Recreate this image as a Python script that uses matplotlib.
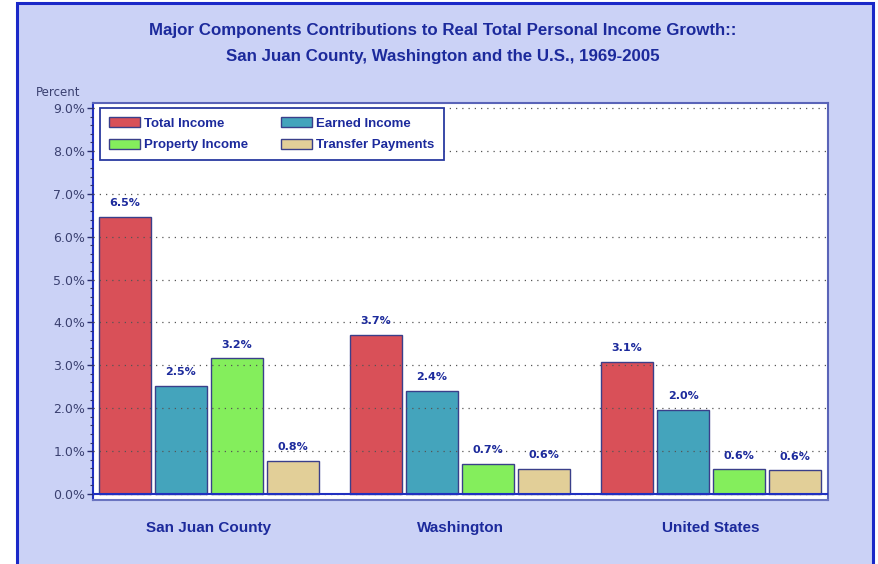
import matplotlib
matplotlib.use("Agg")
import matplotlib.pyplot as plt
from matplotlib import font_manager
from matplotlib.patches import Rectangle
from matplotlib.ticker import MultipleLocator, FuncFormatter
import numpy as np

# ---- data -------------------------------------------------------------
regions = ["San Juan County", "Washington", "United States"]
series_names = ["Total Income", "Earned Income", "Property Income", "Transfer Payments"]
total_income = [6.46, 3.71, 3.08]
earned_income = [2.52, 2.40, 1.96]
property_income = [3.16, 0.71, 0.58]
transfer_payments = [0.77, 0.59, 0.55]
y_ticks = [0, 1, 2, 3, 4, 5, 6, 7, 8, 9]

# ---- style ------------------------------------------------------------
bar_colors = ["#d95058", "#44a4bc", "#84ee5c", "#e2cf98"]
bg = "#cbd2f6"
navy = "#1c2a9c"
frame_blue = "#1a28c8"

names = {f.name for f in font_manager.fontManager.ttflist}
narrow = "Liberation Sans Narrow" if "Liberation Sans Narrow" in names else "Liberation Sans"

W, H = 879, 564
fig = plt.figure(figsize=(W / 100, H / 100), dpi=100, facecolor="white")

# outer panel
fig.patches.append(Rectangle((17 / W, -0.05), 856 / W, 1.05 - 3 / H,
                             transform=fig.transFigure, facecolor=bg,
                             edgecolor=frame_blue, linewidth=2.2, zorder=0))

ax = fig.add_axes([93 / W, (H - 500) / H, 735 / W, 397 / H])
ax.set_zorder(2)
ax.set_facecolor("white")

series = [total_income, earned_income, property_income, transfer_payments]
x = np.arange(len(regions))
step, width = 0.223, 0.207
bars = []
for i, (vals, col, name) in enumerate(zip(series, bar_colors, series_names)):
    b = ax.bar(x + (i - 1.5) * step, vals, width=width, color=col,
               edgecolor="#3a3f8a", linewidth=1.0, label=name, zorder=2)
    bars.append(b)
    for rect, v in zip(b, vals):
        ax.text(rect.get_x() + rect.get_width() / 2, v + 0.2, f"{v:.1f}%",
                ha="center", va="bottom", fontsize=8, fontweight="bold",
                color=navy, family="DejaVu Sans", zorder=4)

ax.set_xlim(-0.462, 2.466)
ax.set_ylim(-0.14, 9.117)

ax.set_yticks(y_ticks)
ax.yaxis.set_major_formatter(FuncFormatter(lambda v, p: f"{v:.1f}%"))
ax.yaxis.set_minor_locator(MultipleLocator(0.2))
ax.tick_params(axis="y", which="major", length=4, width=1, color="#2a2f70",
               labelsize=9, labelcolor="#3a4070", pad=1.5)
ax.tick_params(axis="y", which="minor", length=2.5, width=0.8, color="#2a2f70")
# dotted grid drawn over the bars
ax.set_axisbelow(False)
ax.grid(axis="y", which="major", linestyle=(0, (1, 4)), color="#555555",
        linewidth=0.9, zorder=3)

ax.set_xticks(x)
ax.set_xticklabels(regions, fontsize=11, fontweight="bold", color=navy,
                   family="Liberation Sans")
ax.tick_params(axis="x", length=0, pad=15)

ax.axhline(0, color="#2030c0", linewidth=1.5, zorder=5)
for side, col in [("left", "#2030c0"), ("top", "#5a64b8"),
                  ("right", "#5a64b8"), ("bottom", "#6a74c0")]:
    ax.spines[side].set_color(col)
    ax.spines[side].set_linewidth(1.5)

# legend: two rows, two columns
order = [0, 2, 1, 3]
leg = ax.legend([bars[k] for k in order], [series_names[k] for k in order],
                ncol=2, loc="upper left", bbox_to_anchor=(0.0095, 0.987),
                frameon=True, fancybox=False, framealpha=1, edgecolor="#2a3aa0",
                prop={"family": narrow, "weight": "bold", "size": 9.5},
                handlelength=2.3, handleheight=0.8, handletextpad=0.35,
                columnspacing=2.5, labelspacing=0.65, borderpad=0.7,
                borderaxespad=0)
leg.get_frame().set_linewidth(1.3)
for t in leg.get_texts():
    t.set_color(navy)
leg.set_zorder(6)

fig.text(36 / W, 1 - 93 / H, "Percent", fontsize=8.5, color="#3a4070",
         va="center", ha="left", family="DejaVu Sans")

fig.text(443 / W, 1 - 30 / H,
         "Major Components Contributions to Real Total Personal Income Growth::",
         ha="center", va="center", fontsize=12.2, fontweight="bold", color=navy,
         family=narrow)
fig.text(443 / W, 1 - 57 / H,
         "San Juan County, Washington and the U.S., 1969-2005",
         ha="center", va="center", fontsize=12.2, fontweight="bold", color=navy,
         family=narrow)

fig.savefig("out.png", dpi=100, facecolor="white")
